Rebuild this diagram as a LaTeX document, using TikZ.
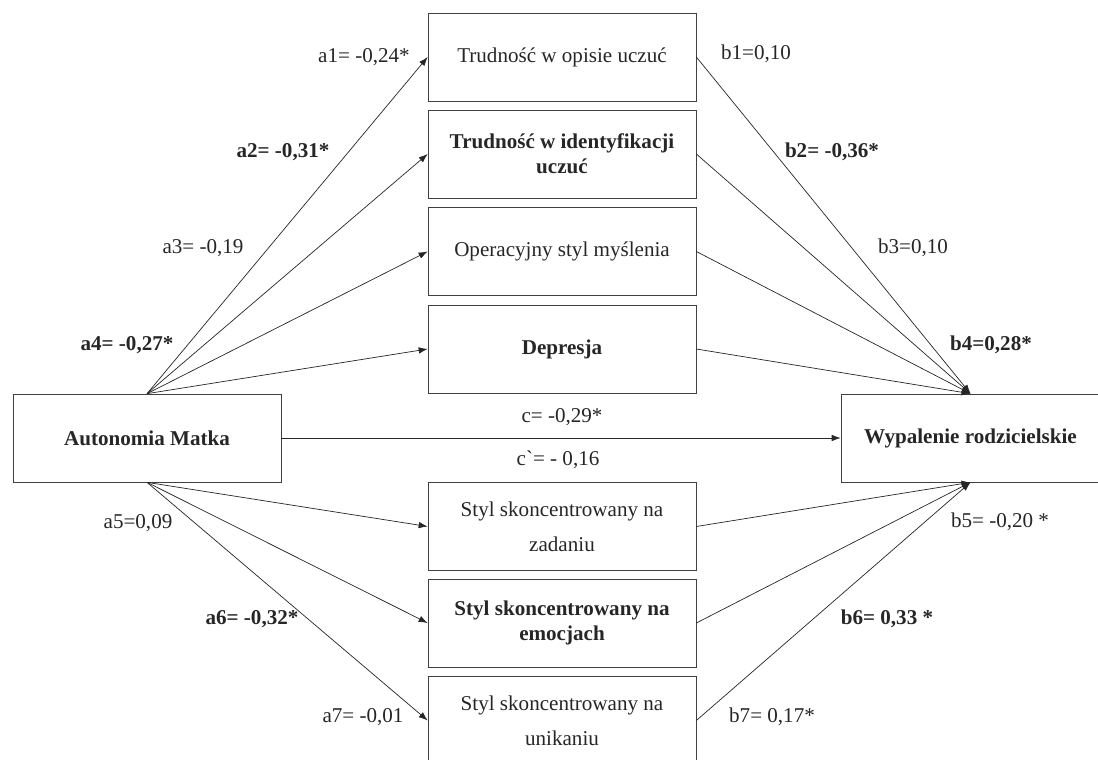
\documentclass[tikz,border=0pt]{standalone}
\usepackage{fontspec}
\setmainfont{Liberation Serif}
\usepackage{tikz}
\usetikzlibrary{positioning}
\usetikzlibrary{calc}
\usetikzlibrary{arrows.meta}

\begin{document}
\begin{tikzpicture}[x=0.02cm,y=-0.02cm,
    font=\fontsize{12}{14}\selectfont,
    box/.style={draw=black!75,minimum width=5.36cm,minimum height=1.76cm,inner sep=0pt,align=center,text=black!85},
    lab/.style={text=black!85,inner sep=0pt},
    path/.style={-{Latex[length=1.8mm,width=1.3mm]},black!85,thin}]
    \useasboundingbox (0,0) rectangle (1098,760);
    % zmienne
    \node[box] (auto) at (147,438) {\textbf{Autonomia Matka}};
    \node[box,minimum width=5.18cm] (wyp) at (970.5,438) {\textbf{Wypalenie rodzicielskie}};
    % mediatory
    \node[box] (m1) at (562,57) {Trudność w opisie uczuć};
    \node[box] (m2) at (562,154) {\textbf{Trudność w identyfikacji}\\\textbf{uczuć}};
    \node[box] (m3) at (562,251.5) {Operacyjny styl myślenia};
    \node[box] (m4) at (562,349) {\textbf{Depresja}};
    \node[box] (m5) at (562,526.5) {Styl skoncentrowany na\\[6pt]zadaniu};
    \node[box] (m6) at (562,623) {\textbf{Styl skoncentrowany na}\\\textbf{emocjach}};
    \node[box] (m7) at (562,720.5) {Styl skoncentrowany na\\[6pt]unikaniu};
    % sciezki
    \foreach \m in {m1,m2,m3,m4}{
      \draw[path] (auto.north) -- (\m.west);
      \draw[path] (\m.east) -- (wyp.north);
    }
    \foreach \m in {m5,m6,m7}{
      \draw[path] (auto.south) -- (\m.west);
      \draw[path] (\m.east) -- (wyp.south);
    }
    \draw[path] (auto.east) -- (wyp.west);
    % wspolczynniki
    \node[lab] (a1) at (364,57) {a1= -0,24*};
    \node[lab] (a2) at (283,152) {\textbf{a2= -0,31*}};
    \node[lab] (a3) at (203,248) {a3= -0,19};
    \node[lab] (a4) at (127,345) {\textbf{a4= -0,27*}};
    \node[lab] (a5) at (138,523) {a5=0,09};
    \node[lab] (a6) at (252,619) {\textbf{a6= -0,32*}};
    \node[lab] (a7) at (363,717) {a7= -0,01};
    \node[lab] (b1) at (756,54) {b1=0,10};
    \node[lab] (b2) at (832,152) {\textbf{b2= -0,36*}};
    \node[lab] (b3) at (913,248) {b3=0,10};
    \node[lab] (b4) at (991,345) {\textbf{b4=0,28*}};
    \node[lab] (b5) at (1000,522) {b5= -0,20 *};
    \node[lab] (b6) at (887,619) {\textbf{b6= 0,33 *}};
    \node[lab] (b7) at (772,717) {b7= 0,17*};
    \node[lab] (c) at (562,417) {c= -0,29*};
    \node[lab] (cp) at (558,460) {c\textasciigrave= - 0,16};
  \end{tikzpicture}
\end{document}
